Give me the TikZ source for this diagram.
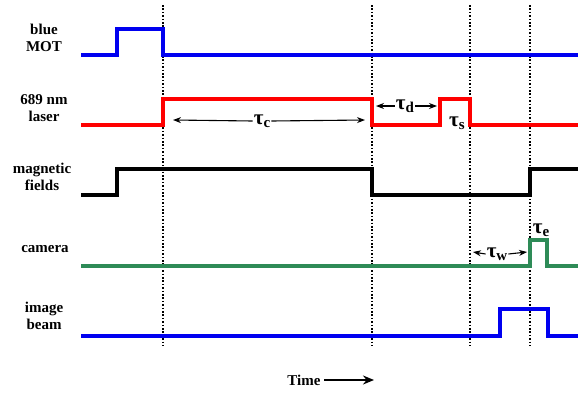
\documentclass[tikz,border=0pt]{standalone}
\usepackage{fontspec}
\setmainfont{Liberation Serif}
\usetikzlibrary{arrows.meta}
\definecolor{mblue}{RGB}{0,0,240}
\definecolor{mred}{RGB}{255,0,0}
\definecolor{mgreen}{RGB}{46,139,87}
\tikzset{
  sig/.style={line width=3.4pt, line join=miter},
  grid/.style={line width=1.8pt, dash pattern=on 1.5pt off 1.9pt},
  lab/.style={font=\fontsize{15}{17}\selectfont\bfseries, align=center},
  tau/.style={font=\fontsize{21}{22}\selectfont\bfseries, inner sep=1pt},
  dim/.style={line width=1.1pt, -{Stealth[length=8pt,width=6pt]}},
}
\newcommand{\tauwith}[1]{τ\raisebox{-0.35ex}{\fontsize{15}{15}\selectfont #1}}
\begin{document}
\begin{tikzpicture}[x=1pt,y=-1pt]
\useasboundingbox (0,0) rectangle (578,394);
% dotted guide lines
\foreach \xx in {163,372,470,530} \draw[grid] (\xx,5) -- (\xx,346);
% signals
\draw[sig, mblue] (81,55) -- (117,55) -- (117,29) -- (163,29) -- (163,55) -- (578,55);
\draw[sig, mred] (81,125) -- (163,125) -- (163,99) -- (372,99) -- (372,125) -- (440,125) -- (440,99) -- (470,99) -- (470,125) -- (578,125);
\draw[sig, black] (81,195) -- (117,195) -- (117,169) -- (372,169) -- (372,195) -- (530,195) -- (530,169) -- (578,169);
\draw[sig, mgreen] (81,266) -- (530,266) -- (530,240) -- (547,240) -- (547,266) -- (578,266);
\draw[sig, mblue] (81,336) -- (500,336) -- (500,309) -- (548,309) -- (548,336) -- (578,336);
% labels
\node[lab] (lmot) at (44,38) {blue\\MOT};
\node[lab] (llas) at (44,108) {689 nm\\laser};
\node[lab] (lmag) at (42,177) {magnetic\\fields};
\node[lab] (lcam) at (45,249) {camera};
\node[lab] (limg) at (44,316) {image\\beam};
% tau labels
\node[tau] (tc) at (262,121) {\tauwith{c}};
\coordinate (tcL) at (173,120); \coordinate (tcR) at (365,120);
\draw[dim] (tc.west) -- (tcL);
\draw[dim] (tc.east) -- (tcR);
\node[tau] (td) at (405,106) {\tauwith{d}};
\coordinate (tdL) at (376,106); \coordinate (tdR) at (437,106);
\draw[dim] (td.west) -- (tdL);
\draw[dim] (td.east) -- (tdR);
\node[tau] (ts) at (457,123) {\tauwith{s}};
\node[tau] (tw) at (497,254) {\tauwith{w}};
\coordinate (twL) at (473,252); \coordinate (twR) at (527,252);
\draw[dim] (tw.west) -- (twL);
\draw[dim] (tw.east) -- (twR);
\node[tau] (te) at (541,230) {\tauwith{e}};
% time
\node[lab, anchor=east] (time) at (324,380) {Time};
\coordinate (tend) at (374,380);
\draw[line width=2.6pt, -{Stealth[length=11pt,width=9pt]}] (time.east) -- (tend);
\end{tikzpicture}
\end{document}
